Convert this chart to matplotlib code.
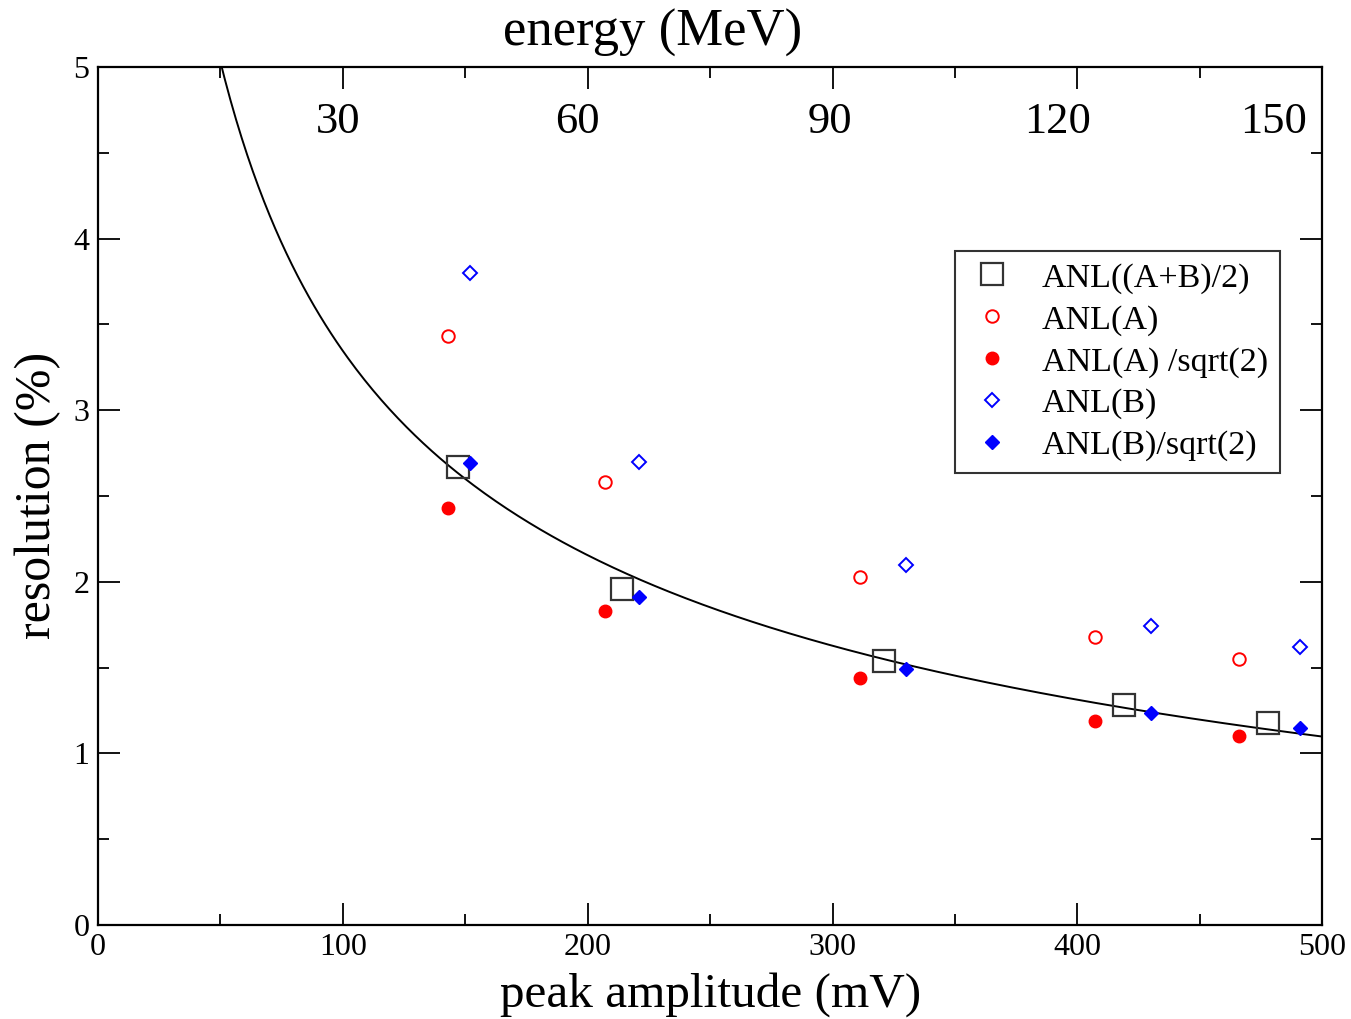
import matplotlib
matplotlib.use('Agg')
import matplotlib.pyplot as plt
import numpy as np
from matplotlib.ticker import MultipleLocator

plt.rcParams['font.family'] = ['Liberation Serif', 'DejaVu Serif']

# peak amplitude (mV) and resolution (%)
x_avg = [147, 214, 321, 419, 478]
y_avg = [2.67, 1.96, 1.54, 1.28, 1.18]

x_a = [143, 207, 311, 407, 466]
y_a = [3.43, 2.58, 2.03, 1.68, 1.55]
y_a_sqrt2 = [2.43, 1.83, 1.44, 1.19, 1.10]

x_b = [152, 221, 330, 430, 491]
y_b = [3.80, 2.70, 2.10, 1.74, 1.62]
y_b_sqrt2 = [2.69, 1.91, 1.49, 1.235, 1.15]

# fit: a/sqrt(x) + b
fit_a = 40.66
fit_b = -0.72

energy_labels = ['30', '60', '90', '120', '150']
energy_pos = [98, 196, 299, 392, 480]

fig = plt.figure(figsize=(13.51, 10.19), dpi=100)
ax = fig.add_axes([0.0725, 0.0922, 0.9063, 0.842])

xf = np.linspace(45, 500, 400)
ax.plot(xf, fit_a / np.sqrt(xf) + fit_b, color='black', lw=1.4, zorder=2)

ax.plot(x_avg, y_avg, 's', ms=16, mfc='none', mec='#333333', mew=1.6,
        label='ANL((A+B)/2)', zorder=3)
ax.plot(x_a, y_a, 'o', ms=9, mfc='none', mec='red', mew=1.4,
        label='ANL(A)', zorder=3)
ax.plot(x_a, y_a_sqrt2, 'o', ms=9, mfc='red', mec='red',
        label='ANL(A) /sqrt(2)', zorder=3)
ax.plot(x_b, y_b, 'D', ms=7, mfc='none', mec='blue', mew=1.4,
        label='ANL(B)', zorder=3)
ax.plot(x_b, y_b_sqrt2, 'D', ms=7, mfc='blue', mec='blue',
        label='ANL(B)/sqrt(2)', zorder=3)

ax.set_xlim(0, 500)
ax.set_ylim(0, 5)
ax.xaxis.set_major_locator(MultipleLocator(100))
ax.xaxis.set_minor_locator(MultipleLocator(50))
ax.yaxis.set_major_locator(MultipleLocator(1))
ax.yaxis.set_minor_locator(MultipleLocator(0.5))
ax.tick_params(which='both', direction='in', top=True, right=True,
               labelsize=23, width=1.3)
ax.tick_params(which='major', length=16, pad=6)
ax.tick_params(which='minor', length=8)
for s in ax.spines.values():
    s.set_linewidth(1.6)

for lab, xp in zip(energy_labels, energy_pos):
    ax.text(xp, 4.68, lab, fontsize=32, ha='center', va='center')

fig.text(0.483, 0.968, 'energy (MeV)', fontsize=38, ha='center', va='center')
fig.text(0.526, 0.024, 'peak amplitude (mV)', fontsize=35.5, ha='center', va='center')
fig.text(0.028, 0.514, 'resolution (%)', fontsize=36, ha='center', va='center',
         rotation=90)

leg = ax.legend(loc='upper left', bbox_to_anchor=(0.700, 0.786), borderaxespad=0,
                fontsize=24.5, frameon=True, fancybox=False, edgecolor='black',
                handletextpad=0.7, labelspacing=0.32, borderpad=0.35,
                handlelength=1.5)
leg.get_frame().set_linewidth(1.5)

fig.savefig('out.png', dpi=100)
